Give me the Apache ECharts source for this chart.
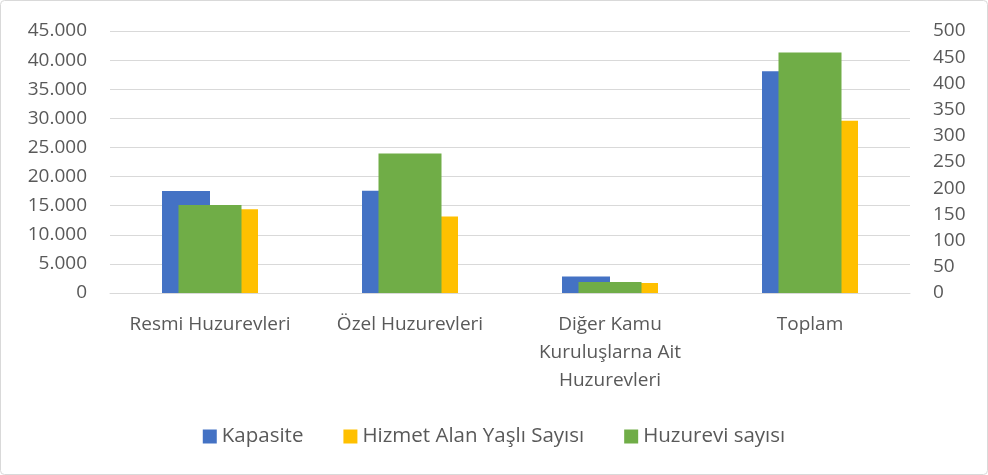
<!DOCTYPE html>
<html>
<head>
<meta charset="utf-8">
<script src="https://cdn.jsdelivr.net/npm/echarts@6/dist/echarts.min.js"></script>
<style>
  html, body { margin: 0; padding: 0; background: #fff; }
  #chart { width: 988px; height: 475px; }
</style>
</head>
<body>
<div id="chart"></div>
<script>
const categories = ['Resmi Huzurevleri', 'Özel Huzurevleri', 'Diğer Kamu Kuruluşlarna Ait Huzurevleri', 'Toplam']
const kapasite = [17500, 17550, 2850, 38100]
const hizmetAlan = [14400, 13150, 1700, 29600]
const huzureviSayisi = [168, 266, 21, 459]

const font = '"Open Sans", sans-serif'
const textColor = '#595959'
const gridColor = '#d9d9d9'

const chart = echarts.init(document.getElementById('chart'))

function thousands(v) {
    return String(v).replace(/\B(?=(\d{3})+(?!\d))/g, '.')
}

chart.setOption({
    animation: false,
    textStyle: { fontFamily: font },
    graphic: [{
        type: 'rect',
        shape: { x: 0.5, y: 0.5, width: 987, height: 474, r: 4 },
        style: { fill: 'none', stroke: gridColor, lineWidth: 1 },
        silent: true
    }],
    legend: {
        bottom: 23,
        left: 'center',
        itemWidth: 14,
        itemHeight: 14,
        itemGap: 40,
        icon: 'rect',
        textStyle: { color: textColor, fontSize: 20.5, fontFamily: font },
        data: ['Kapasite', 'Hizmet Alan Yaşlı Sayısı', 'Huzurevi sayısı']
    },
    grid: { left: 110, right: 78, top: 31, bottom: 182 },
    xAxis: [
        {
            type: 'category',
            data: categories,
            axisLine: { lineStyle: { color: gridColor } },
            axisTick: { show: false },
            axisLabel: {
                color: textColor,
                fontSize: 19,
                lineHeight: 28,
                margin: 18,
                interval: 0,
                formatter: function (v) {
                    return v === categories[2] ? 'Diğer Kamu\nKuruluşlarna Ait\nHuzurevleri' : v
                }
            }
        },
        {
            type: 'category',
            data: categories,
            show: false
        }
    ],
    yAxis: [
        {
            type: 'value',
            min: 0,
            max: 45000,
            interval: 5000,
            axisLine: { show: false },
            axisTick: { show: false },
            splitLine: { lineStyle: { color: gridColor, width: 1 } },
            axisLabel: { color: textColor, fontSize: 19, margin: 23, formatter: thousands }
        },
        {
            type: 'value',
            min: 0,
            max: 500,
            interval: 50,
            axisLine: { show: false },
            axisTick: { show: false },
            splitLine: { show: false },
            axisLabel: { color: textColor, fontSize: 19, margin: 23 }
        }
    ],
    series: [
        {
            name: 'Kapasite',
            type: 'bar',
            xAxisIndex: 0,
            yAxisIndex: 0,
            barWidth: 48,
            barGap: '0%',
            itemStyle: { color: '#4472c4' },
            data: kapasite
        },
        {
            name: 'Hizmet Alan Yaşlı Sayısı',
            type: 'bar',
            xAxisIndex: 0,
            yAxisIndex: 0,
            barWidth: 48,
            barGap: '0%',
            itemStyle: { color: '#ffc000' },
            data: hizmetAlan
        },
        {
            name: 'Huzurevi sayısı',
            type: 'bar',
            xAxisIndex: 1,
            yAxisIndex: 1,
            barWidth: 63,
            itemStyle: { color: '#70ad47' },
            data: huzureviSayisi
        }
    ]
})
</script>
</body>
</html>
